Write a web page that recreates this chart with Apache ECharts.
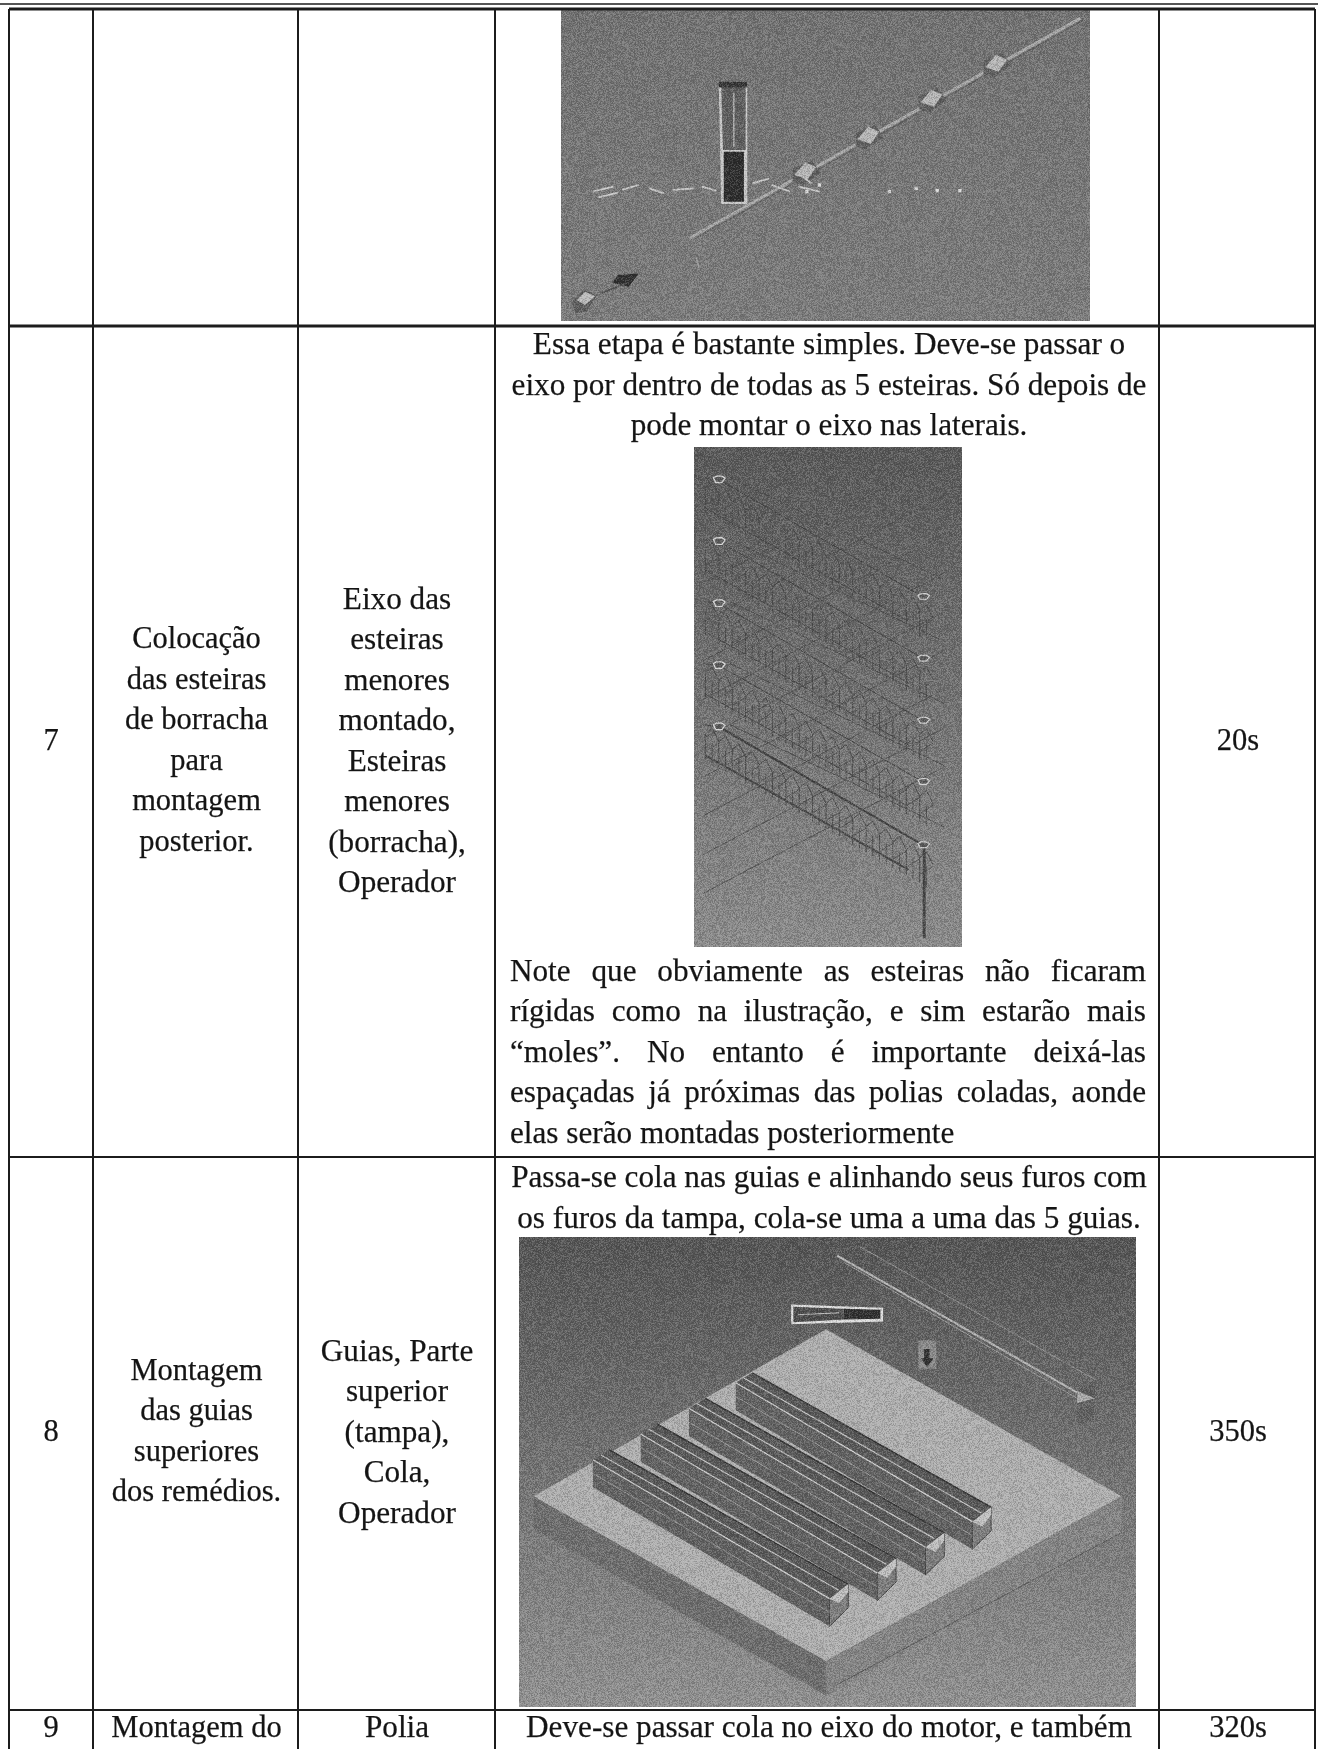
<!DOCTYPE html>
<html><head><meta charset="utf-8">
<style>html,body{margin:0;padding:0;background:#fff}#c{width:1318px;height:1749px}</style>
<script src="https://cdn.jsdelivr.net/npm/echarts@6/dist/echarts.min.js"></script>
</head><body><div id="c"></div>
<script>
// ---- table content ----
const stepNumbers = ['', '7', '8', '9'];
const stepNames = [[], ['Colocação','das esteiras','de borracha','para','montagem','posterior.'], ['Montagem','das guias','superiores','dos remédios.'], ['Montagem do']];
const resources = [[], ['Eixo das','esteiras','menores','montado,','Esteiras','menores','(borracha),','Operador'], ['Guias, Parte','superior','(tampa),','Cola,','Operador'], ['Polia']];
const times = ['', '20s', '350s', '320s'];
const introStep7 = ['Essa etapa é bastante simples. Deve-se passar o','eixo por dentro de todas as 5 esteiras. Só depois de','pode montar o eixo nas laterais.'];
const noteStep7 = ['Note que obviamente as esteiras não ficaram','rígidas como na ilustração, e sim estarão mais','“moles”. No entanto é importante deixá-las','espaçadas já próximas das polias coladas, aonde','elas serão montadas posteriormente'];
const introStep8 = ['Passa-se cola nas guias e alinhando seus furos com','os furos da tampa, cola-se uma a uma das 5 guias.'];
const introStep9 = ['Deve-se passar cola no eixo do motor, e também'];
// ---- table frame on the page axes ----
const columnEdges = [9, 93, 298, 495, 1159, 1315];
const rowEdges = [9, 326, 1157, 1710];
const pageBottom = 1749;
const LH = 40.5, FONT = 'Liberation Serif', FS = 30.5, FS4 = 31.2;
const ink = '#1c1c1c';

// ---- helpers ----
const texts = [];
function addText(t, x, y, align, fs){ texts.push({t, x, y, align: align||'center', fs: fs||FS}); }
function colC(i){ return (columnEdges[i]+columnEdges[i+1])/2; }
function block(lines, x, cy, fs){ lines.forEach((l,i)=>addText(l, x, cy+(i-(lines.length-1)/2)*LH, 'center', fs)); }
const mc = document.createElement('canvas').getContext('2d');
mc.font = FS4+'px "'+FONT+'"';
function justify(line, x0, x1, y){
  const words = line.split(' ');
  const total = words.reduce((s,w)=>s+mc.measureText(w).width,0);
  const gap = (x1-x0-total)/(words.length-1);
  let x = x0;
  words.forEach(w=>{ addText(w,x,y,'left',FS4); x += mc.measureText(w).width+gap; });
}
[1,2].forEach(r=>{
  const cy = (rowEdges[r]+rowEdges[r+1])/2 - (r===1?1:2);
  addText(stepNumbers[r], 51, cy+1);
  block(stepNames[r], colC(1)+1, cy+1);
  block(resources[r], colC(2)+0.5, cy+2, FS4);
  addText(times[r], 1238, cy+1);
});
const y9 = 1729;
addText(stepNumbers[3], 51, y9); addText(stepNames[3][0], colC(1)+1, y9);
addText(resources[3][0], colC(2)+0.5, y9, 'center', FS4); addText(times[3], 1238, y9);
introStep7.forEach((l,i)=>addText(l, 829, 346+i*LH, 'center', FS4));
noteStep7.forEach((l,i)=>{ const y=972.5+i*LH; if(i<4) justify(l,510,1146,y); else addText(l,510,y,'left',FS4); });
introStep8.forEach((l,i)=>addText(l, 829, 1179+i*LH, 'center', FS4));
introStep9.forEach((l,i)=>addText(l, 829, y9, 'center', FS4));

// frame segments: x1,y1,x2,y2,width
const frame = [];
columnEdges.forEach(x=>frame.push([x,rowEdges[0],x,pageBottom,2]));
rowEdges.forEach((y,i)=>frame.push([columnEdges[0],y,columnEdges[5],y,i<2?3:2]));
frame.push([0,4,1318,4,1.5,1]);

// ---- illustrations: shapes read in crop units, mapped to page units ----
const boxes = {
  a:{x0:561,x1:1090,y0:9,y1:321, sx:0.8406, ox:0, sy:0.3333, oy:0, top:'#727272', bot:'#7c7c7c'},
  b:{x0:694,x1:962,y0:447,y1:947, sx:0.4464, ox:480, sy:0.4082, oy:330, top:'#585858', bot:'#8c8c8c'},
  c:{x0:519,x1:1136,y0:1237,y1:1707, sx:0.4464, ox:480, sy:0.3948, oy:1130, top:'#545454', bot:'#929292'}
};
const shapes = [];
function P(b,pts,fill,stroke,lw){ shapes.push({b,pts,fill:fill||null,stroke:stroke||null,lw:lw||1,closed:true}); }
function L(b,pts,stroke,lw){ shapes.push({b,pts,fill:null,stroke,lw:lw||1,closed:false}); }

// picture c : plate, guides, tube, arrow, spare guide
P('c',[[120,928],[775,1345],[775,1432],[120,1010]],'#6e6e6e');
P('c',[[775,1345],[1437,928],[1437,1020],[775,1432]],'#858585');
L('c',[[800,1405],[1437,1020]],'#5a5a5a',1);
P('c',[[775,505],[1437,928],[775,1345],[120,928]],'#b0b0b0');
const guideStarts = [[573,640],[468,705],[360,770],[253,835]];
guideStarts.forEach(([x,y])=>{
  const e = 530, d = 352;
  P('c',[[x,y],[x+37,y-25],[x+572,y+315],[x+530,y+352]],'#585858');
  P('c',[[x,y],[x+e,y+d],[x+e,y+d+70],[x,y+70]],'#616161');
  P('c',[[x+e,y+d],[x+572,y+315],[x+572,y+375],[x+e,y+d+70]],'#7e7e7e','#444444',1);
  P('c',[[x+e,y+d],[x+572,y+315],[x+572,y+335],[x+e+22,y+d+12]],'#c2c2c2');
  L('c',[[x,y],[x+e,y+d]],'#cfcfcf',1.2);
  L('c',[[x,y+35],[x+e,y+d+35]],'#949494',1);
  L('c',[[x+37,y-25],[x+572,y+315]],'#333333',1.4);
  L('c',[[x+18,y-12],[x+550,y+330]],'#c4c4c4',1.2);
});
P('c',[[697,442],[903,450],[903,485],[697,492]],'#e0e0e0');
P('c',[[702,448],[815,453],[815,480],[702,487]],'#4c4c4c');
P('c',[[815,453],[897,455],[897,478],[815,480]],'#2e2e2e');
L('c',[[712,468],[805,463]],'#bdbdbd',1);
P('c',[[982,533],[1022,533],[1022,605],[982,605]],'#8a8a8a');
P('c',[[995,555],[1007,555],[1007,578],[1016,578],[1001,600],[988,578],[995,578]],'#2f2f2f');
L('c',[[800,318],[1338,665]],'#b5b5b5',2);
L('c',[[815,335],[1338,680]],'#9a9a9a',1);
L('c',[[850,295],[1378,632]],'#8f8f8f',1);
P('c',[[1338,660],[1378,680],[1338,692]],'#adadad');
P('c',[[1338,692],[1375,680],[1375,735],[1338,748]],'#606060');
P('c',[[1338,660],[1378,632],[1378,680]],'#5c5c5c');

// picture a : tube, shaft with pulleys, pin row
P('a',[[855,245],[889,245],[889,612],[858,612]],'#c9c9c9');
P('a',[[858,258],[887,258],[887,450],[860,450]],'#5f5f5f');
P('a',[[855,245],[889,245],[889,262],[855,262]],'#333333');
L('a',[[873,280],[873,440]],'#b0b0b0',1.5);
P('a',[[861,455],[885,455],[885,605],[861,605]],'#2c2c2c');
L('a',[[820,715],[1285,55]],'#a8a8a8',3);
L('a',[[824,720],[1289,60]],'#5e5e5e',1);
const pulleys = [[958,510],[1033,403],[1108,292],[1185,187]];
pulleys.forEach(([x,y])=>{
  P('a',[[x-15,y+36],[x-15,y-4],[x+8,y-28],[x+18,y+8],[x-3,y+46]],'#5f5f5f');
  P('a',[[x-13,y+15],[x,y-23],[x+13,y-8],[x+3,y+28]],'#b8b8b8');
});
P('a',[[680,905],[695,870],[710,885],[698,935],[685,940]],'#5c5c5c');
P('a',[[686,900],[696,875],[708,888],[696,915]],'#bdbdbd');
P('a',[[735,825],[760,820],[748,860],[728,848]],'#303030');
L('a',[[715,880],[745,850]],'#555555',1.5);
L('a',[[828,770],[832,810]],'#9a9a9a',1.5);
const dashRow = [[705,575,730,560],[740,570,760,555],[772,565,790,580],[800,570,825,565],[835,560,852,572],[712,592,735,578],[895,550,915,535],[918,555,940,575],[950,560,975,575],[955,530,965,550]];
dashRow.forEach(d=>L('a',[[d[0],d[1]],[d[2],d[3]]],'#c8c8c8',1.8));
const pins = [[1058,575],[1090,565],[1115,572],[1142,572],[960,575],[975,555]];
pins.forEach(([x,y])=>P('a',[[x-2,y-5],[x+2,y-5],[x+2,y+5],[x-2,y+5]],'#d8d8d8'));

// picture b : belts of lattice between the side rings
const ringsLeft = [367,518,670,822,972];
const ringsRight = [654,805,957,1107,1262];
for(let c=0;c<9;c++){
  const y0 = 620+c*95;
  L('b',[[500,y0],[1040,y0-310]],'#535353',1);
}
ringsLeft.forEach((yl,i)=>{
  const yr = ringsRight[i];
  L('b',[[500,yl-5],[535,yl]],'#4b4b4b',1);
  L('b',[[535,yl],[993,yr]],'#444444',i===4?2.2:1);
  L('b',[[505,yl+70],[960,yr+60]],'#484848',i===4?2.2:1);
  L('b',[[560,yl-5],[1040,yl+245]],'#505050',1);
  for(let k=0;k<17;k++){
    const x = 505+k*30, y = yl+(x-505)*0.63;
    L('b',[[x,y+18],[x+15,y+4],[x+30,y+36]],'#4e4e4e',1);
    L('b',[[x,y+18],[x,y+80]],'#4c4c4c',1);
    L('b',[[x+15,y+40],[x+15,y+90]],'#525252',1);
    L('b',[[x,y+60],[x+30,y+40]],'#565656',1);
  }
});
L('b',[[995,1262],[995,1490]],'#474747',3);
ringsLeft.forEach(y=>P('b',[[523,y-5],[530,y-9],[542,y-9],[549,y-4],[542,y+7],[528,y+7]],'#5a5a5a','#d8d8d8',1.3));
ringsRight.forEach(y=>P('b',[[981,y-4],[988,y-8],[1000,y-8],[1007,y-3],[1000,y+6],[986,y+6]],'#5a5a5a','#cfcfcf',1.3));

function pagePoint(b,p){ const B=boxes[b]; return [B.ox+p[0]*B.sx, B.oy+p[1]*B.sy]; }

// scan grain (a fixed texture, no data)
function grain(w,h,seed,amp){
  const c=document.createElement('canvas'); c.width=w; c.height=h;
  const g=c.getContext('2d'), im=g.createImageData(w,h); let s=seed>>>0;
  for(let i=0;i<w*h;i++){
    s=(Math.imul(s,1664525)+1013904223)>>>0;
    const v=(s>>>24), light=v>127;
    im.data[i*4]=im.data[i*4+1]=im.data[i*4+2]=light?255:0;
    im.data[i*4+3]=Math.abs(v-127.5)/127.5*amp;
  }
  g.putImageData(im,0,0); return c;
}
const boxKeys = Object.keys(boxes);
const grains = boxKeys.map((k,i)=>grain(boxes[k].x1-boxes[k].x0,boxes[k].y1-boxes[k].y0,11+i*37,46));

const chart = echarts.init(document.getElementById('c'),null,{renderer:'canvas'});
chart.setOption({
  animation:false, backgroundColor:'#ffffff',
  grid:{left:0,right:0,top:0,bottom:0},
  xAxis:{type:'value',min:0,max:1318,show:false},
  yAxis:{type:'value',min:0,max:1749,inverse:true,show:false},
  series:[
    {type:'custom',coordinateSystem:'cartesian2d',silent:true,clip:false,z:1,
     data:boxKeys.map(k=>[boxes[k].x0,boxes[k].y0,boxes[k].x1,boxes[k].y1]),
     renderItem:(p,api)=>{
       const a=api.coord([api.value(0),api.value(1)]), b=api.coord([api.value(2),api.value(3)]);
       const B=boxes[boxKeys[p.dataIndex]];
       return {type:'rect',shape:{x:a[0],y:a[1],width:b[0]-a[0],height:b[1]-a[1]},
         style:{fill:new echarts.graphic.LinearGradient(0,0,0,1,[{offset:0,color:B.top},{offset:1,color:B.bot}])}};
     }},
    {type:'custom',coordinateSystem:'cartesian2d',silent:true,clip:false,z:2,
     data:shapes.map((s,i)=>[i,0]),
     renderItem:(p,api)=>{
       const s=shapes[p.dataIndex];
       const pts=s.pts.map(q=>api.coord(pagePoint(s.b,q)));
       return {type:s.closed?'polygon':'polyline',shape:{points:pts},
         style:{fill:s.closed?(s.fill||'none'):'none',stroke:s.stroke||'none',lineWidth:s.lw}};
     }},
    {type:'custom',coordinateSystem:'cartesian2d',silent:true,clip:false,z:3,
     data:boxKeys.map(k=>[boxes[k].x0,boxes[k].y0,boxes[k].x1,boxes[k].y1]),
     renderItem:(p,api)=>{
       const a=api.coord([api.value(0),api.value(1)]), b=api.coord([api.value(2),api.value(3)]);
       return {type:'image',style:{image:grains[p.dataIndex],x:a[0],y:a[1],width:b[0]-a[0],height:b[1]-a[1]}};
     }},
    {type:'custom',coordinateSystem:'cartesian2d',silent:true,clip:false,z:4,
     data:frame,
     renderItem:(p,api)=>{
       const a=api.coord([api.value(0),api.value(1)]), b=api.coord([api.value(2),api.value(3)]);
       const ghost = api.value(5)===1;
       return {type:'line',shape:{x1:a[0],y1:a[1],x2:b[0],y2:b[1]},
         style:{stroke:ghost?'#e6e6e6':ink,lineWidth:api.value(4),lineDash:ghost?[30,14,8,20]:null}};
     }},
    {type:'custom',coordinateSystem:'cartesian2d',silent:true,clip:false,z:5,
     data:texts.map(t=>[t.x,t.y]),
     renderItem:(p,api)=>{
       const t=texts[p.dataIndex], a=api.coord([api.value(0),api.value(1)]);
       return {type:'text',x:a[0],y:a[1],style:{text:t.t,x:0,y:0,align:t.align,verticalAlign:'middle',
         font:t.fs+'px "'+FONT+'"',fill:'#141414',stroke:'#333333',lineWidth:0.25}};
     }}
  ]
});
</script></body></html>
